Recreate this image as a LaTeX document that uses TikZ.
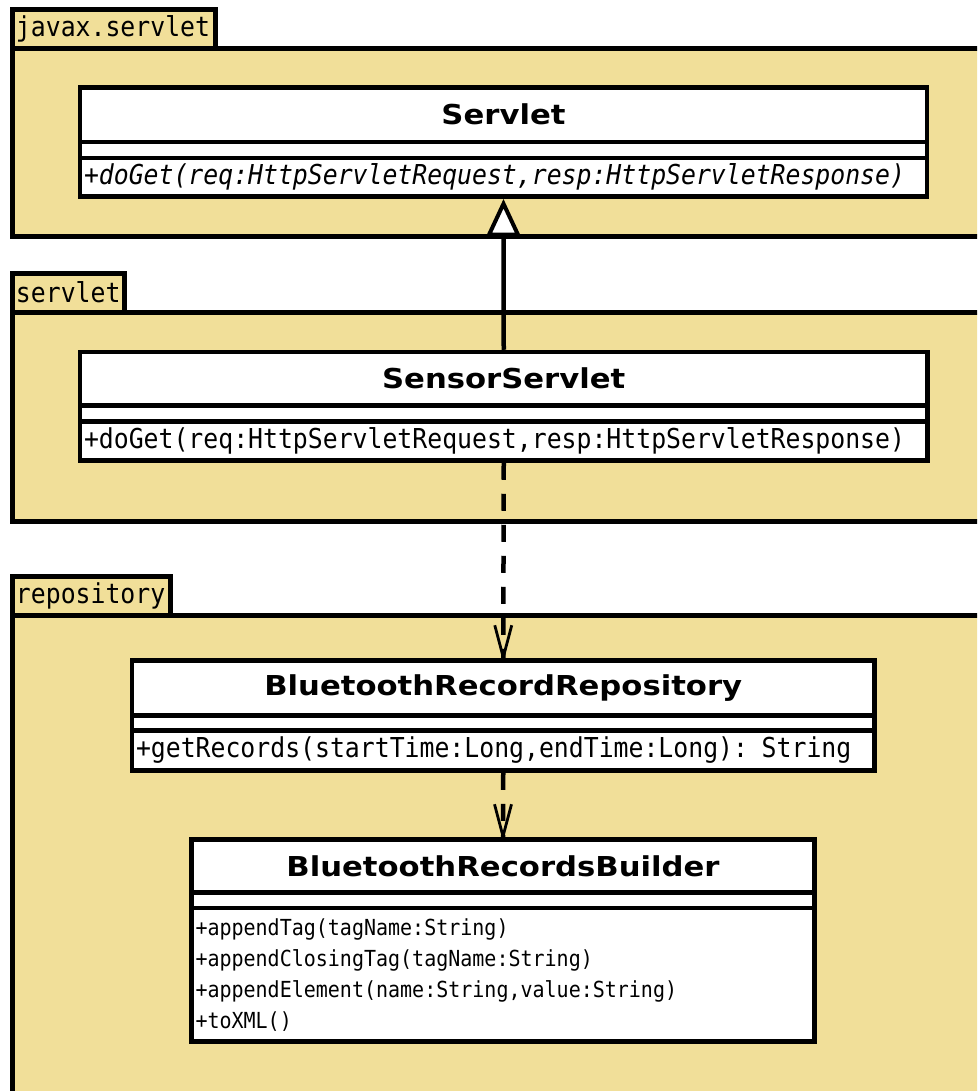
\documentclass[tikz,border=0pt]{standalone}
\usepackage{fontspec}
\setmainfont{DejaVu Sans}
\newfontfamily\umlmono[FakeStretch=0.905]{DejaVu Sans Mono}
\newfontfamily\umlname[FakeStretch=1.12]{DejaVu Sans}
\usetikzlibrary{calc}
\definecolor{pkgfill}{RGB}{241,223,153}

\tikzset{
  pkgbody/.style={draw, line width=5pt, fill=pkgfill, anchor=north west,
    inner sep=0pt, outer sep=0pt},
  pkgtab/.style={draw, line width=5pt, fill=pkgfill, anchor=north west,
    inner ysep=0pt, inner xsep=4pt, outer sep=0pt, align=left,
    minimum height=39pt, font=\umlmono\fontsize{27.4}{29}\selectfont},
  classpart/.style={draw, line width=4.5pt, fill=white, inner sep=0pt},
  classname/.style={classpart, font=\umlname\bfseries\fontsize{27.4}{30}\selectfont},
  classops/.style={classpart, inner xsep=4pt, align=left,
    font=\umlmono\fontsize{27.4}{29}\selectfont},
  depline/.style={line width=4.5pt, dash pattern=on 17pt off 14pt},
  depbarb/.style={line width=2.8pt, line join=bevel},
  genline/.style={line width=4.5pt},
  gentri/.style={line width=4pt, fill=white, line join=miter},
}

\begin{document}
\begin{tikzpicture}[x=1pt,y=-1pt]
\useasboundingbox (0,0) rectangle (977,1091);
\clip (0,0) rectangle (977,1091);

% ---------- packages ----------
\node[pkgbody, minimum width=990, minimum height=188.5] (javaxPkg) at (12,48.5) {};
\node[pkgtab, text width=195.5] (javaxTab) at (12,9.5) {javax.servlet};

\node[pkgbody, minimum width=990, minimum height=208.5] (servletPkg) at (12,312.5) {};
\node[pkgtab, text width=104.5] (servletTab) at (12,273) {servlet};

\node[pkgbody, minimum width=990, minimum height=490] (repoPkg) at (12,615) {};
\node[pkgtab, text width=150.5] (repoTab) at (12,576) {repository};

% ---------- class Servlet ----------
\node[classname, minimum width=847, minimum height=54.5] (servletName) at (503.5,114.75) {Servlet};
\node[classpart, minimum width=847, minimum height=16] (servletAttrs) at (503.5,150) {};
\node[classops, minimum height=38.5, text width=839] (servletOps) at (503.5,177.25)
  {\itshape +doGet(req:HttpServletRequest,resp:HttpServletResponse)};

% ---------- class SensorServlet ----------
\node[classname, minimum width=847.5, minimum height=53.5] (sensorName) at (503.75,378.75) {SensorServlet};
\node[classpart, minimum width=847.5, minimum height=16] (sensorAttrs) at (503.75,413.5) {};
\node[classops, minimum height=39, text width=839.5] (sensorOps) at (503.75,441)
  {+doGet(req:HttpServletRequest,resp:HttpServletResponse)};

% ---------- class BluetoothRecordRepository ----------
\node[classname, minimum width=742.5, minimum height=55] (repoName) at (503.25,688) {BluetoothRecordRepository};
\node[classpart, minimum width=742.5, minimum height=15] (repoAttrs) at (503.25,723) {};
\node[classops, minimum height=40, text width=734.5] (repoOps) at (503.25,750.5)
  {+getRecords(startTime:Long,endTime:Long): String};

% ---------- class BluetoothRecordsBuilder ----------
\node[classname, minimum width=623, minimum height=53] (builderName) at (503,866) {BluetoothRecordsBuilder};
\node[classpart, minimum width=623, minimum height=15.5] (builderAttrs) at (503,900.25) {};
\node[classops, minimum height=133.5, text width=615,
      font=\umlmono\fontsize{22.1}{31}\selectfont] (builderOps) at (503,974.75)
  {+appendTag(tagName:String)\\
   +appendClosingTag(tagName:String)\\
   +appendElement(name:String,value:String)\\
   +toXML()};

% ---------- generalization: SensorServlet -> Servlet ----------
\draw[genline] (sensorName.north) -- ($(servletOps.south)+(0,35)$);
\draw[gentri] ($(servletOps.south)+(0,5)$) -- ++(-14.5,31) -- ++(29,0) -- cycle;

% ---------- dependency: SensorServlet -> BluetoothRecordRepository ----------
\draw[depline] (sensorOps.south) -- (repoName.north);
\draw[depbarb] ($(repoName.north)+(-8.5,-33)$) -- ($(repoName.north)+(0,-1)$) -- ($(repoName.north)+(8.5,-33)$);

% ---------- dependency: BluetoothRecordRepository -> BluetoothRecordsBuilder ----------
\draw[depline] (repoOps.south) -- (builderName.north);
\draw[depbarb] ($(builderName.north)+(-8.5,-33)$) -- ($(builderName.north)+(0,-1)$) -- ($(builderName.north)+(8.5,-33)$);
\end{tikzpicture}
\end{document}
